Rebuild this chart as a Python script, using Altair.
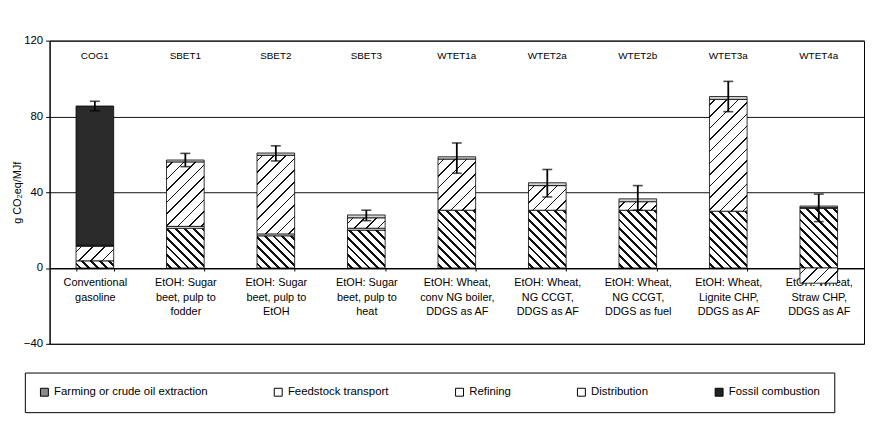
import math
import json
import altair as alt

# ---------------- data ----------------
codes = ["COG1", "SBET1", "SBET2", "SBET3", "WTET1a", "WTET2a", "WTET2b", "WTET3a", "WTET4a"]
descriptions = [
    "Conventional|gasoline",
    "EtOH: Sugar|beet, pulp to|fodder",
    "EtOH: Sugar|beet, pulp to|EtOH",
    "EtOH: Sugar|beet, pulp to|heat",
    "EtOH: Wheat,|conv NG boiler,|DDGS as AF",
    "EtOH: Wheat,|NG CCGT,|DDGS as AF",
    "EtOH: Wheat,|NG CCGT,|DDGS as fuel",
    "EtOH: Wheat,|Lignite CHP,|DDGS as AF",
    "EtOH: Wheat,|Straw CHP,|DDGS as AF",
]
components = ["Farming or crude oil extraction", "Feedstock transport", "Refining",
              "Distribution", "Fossil combustion"]

farming = [3.8, 21.0, 17.0, 20.0, 30.5, 30.5, 30.5, 30.0, 31.5]
transport = [0.0, 1.0, 1.0, 1.0, 0.0, 0.0, 0.0, 0.0, 0.5]
refining = [7.7, 34.0, 41.5, 5.5, 27.0, 13.0, 4.5, 59.0, -8.0]
distribution = [0.5, 1.0, 1.2, 1.5, 1.2, 1.5, 1.5, 1.5, 0.7]
fossil = [73.5, 0.0, 0.0, 0.0, 0.0, 0.0, 0.0, 0.0, 0.0]
err_low = [83.0, 53.5, 56.5, 25.0, 50.0, 37.5, 30.5, 82.5, 24.5]
err_high = [88.0, 60.5, 64.5, 30.5, 66.0, 52.0, 43.5, 98.5, 39.0]

y_ticks = [-40, 0, 40, 80, 120]
legend_colors = ["#8a8a8a", "white", "white", "white", "#222222"]

# ---------------- layout / style ----------------
PLOT_W, PLOT_H = 822, 306
Y_MIN, Y_MAX = -40, 120
PAD_INNER = 0.584
BAR_W = PLOT_W / len(codes) * (1 - PAD_INNER)
PX_PER_UNIT = PLOT_H / (Y_MAX - Y_MIN)
FONT = "Liberation Sans"


def hatch(value, kind, period, lw):
    """Striped linear gradient that looks like a 45 degree hatch on a bar segment."""
    w = BAR_W
    h = max(abs(value) * PX_PER_UNIT, 1.0)
    s = (w + h) * w * h / (w * w + h * h)
    if kind == "back":
        x1, y1, x2, y2 = 0, 1, s / h, 1 - s / w
    else:
        x1, y1, x2, y2 = 0, 0, s / h, s / w
    dist = (w + h) / math.sqrt(2)
    n = max(1.0, dist / period)
    half = lw / period / (2 * n)
    stops = [{"offset": 0, "color": "white"}]
    k = 0
    while True:
        c = (k + 0.5) / n
        a, b = c - half, c + half
        if a >= 1:
            break
        a, b = max(a, 0.0), min(b, 1.0)
        stops += [
            {"offset": round(a, 5), "color": "white"},
            {"offset": round(a, 5), "color": "#111111"},
            {"offset": round(b, 5), "color": "#111111"},
            {"offset": round(b, 5), "color": "white"},
        ]
        k += 1
    stops.append({"offset": 1, "color": "white"})
    return {"gradient": "linear", "x1": x1, "y1": y1, "x2": x2, "y2": y2, "stops": stops}


series = [farming, transport, refining, distribution, fossil]
rows = []
for i, code in enumerate(codes):
    for j, (name, vals) in enumerate(zip(components, series)):
        v = vals[i]
        if v == 0:
            continue
        if j == 0:
            fill = hatch(v, "back", 6.3, 2.0)
        elif j == 2:
            fill = hatch(v, "fwd", 8.3, 1.1)
        elif j == 3:
            fill = "#d4d4d4"
        elif j == 4:
            fill = "#2b2b2b"
        else:
            fill = "white"
        rows.append({"code": code, "comp": name, "order": j, "value": v, "fill": fill})

err_rows = [{"code": c, "lo": lo, "hi": hi} for c, lo, hi in zip(codes, err_low, err_high)]

label_expr = "indexof({c}, datum.value) < 0 ? '' : split({d}[indexof({c}, datum.value)], '|')".format(
    c=json.dumps(codes), d=json.dumps(descriptions))

x_scale = alt.Scale(domain=codes, paddingInner=PAD_INNER, paddingOuter=PAD_INNER / 2)
y_scale = alt.Scale(domain=[Y_MIN, Y_MAX], nice=False)
y_axis = alt.Axis(values=y_ticks, title="g CO₂eq/MJf", grid=True, gridColor="#111111",
                  gridWidth=1, tickSize=4, tickColor="black", domainColor="black",
                  labelFont=FONT, labelFontSize=11.5, labelColor="black", labelPadding=3,
                  titleFont=FONT, titleFontSize=11, titleFontWeight="normal",
                  titleColor="black", titlePadding=1)

bars = alt.Chart(alt.Data(values=rows)).mark_bar(stroke="black", strokeWidth=0.8).encode(
    x=alt.X("code:N", sort=codes, scale=x_scale,
            axis=alt.Axis(title=None, orient="bottom", offset=-(0 - Y_MIN) * PX_PER_UNIT,
                          labelExpr=label_expr, labelAngle=0, tickBand="extent",
                          tickSize=3, tickColor="black", domainColor="black",
                          labelFont=FONT, labelFontSize=11, labelColor="black",
                          labelPadding=6, labelLineHeight=14.5, labelBaseline="top",
                          grid=False)),
    y=alt.Y("value:Q", stack="zero", scale=y_scale, axis=y_axis),
    fill=alt.Fill("fill:N", scale=None),
    order=alt.Order("order:Q"),
)

rules = alt.Chart(alt.Data(values=err_rows)).mark_rule(color="black", strokeWidth=1.8).encode(
    x=alt.X("code:N", sort=codes,
            axis=alt.Axis(title=None, orient="top", offset=-22, domain=False, ticks=False,
                          labelPadding=2, labelAngle=0, labelFont=FONT, labelFontSize=10,
                          labelColor="black", grid=False)),
    y=alt.Y("lo:Q", scale=y_scale, axis=y_axis),
    y2="hi:Q",
)

cap_hi = alt.Chart(alt.Data(values=err_rows)).mark_tick(color="black", thickness=1.6, size=10).encode(
    x=alt.X("code:N", sort=codes, axis=None),
    y=alt.Y("hi:Q", scale=y_scale, axis=y_axis),
)
cap_lo = alt.Chart(alt.Data(values=err_rows)).mark_tick(color="black", thickness=1.6, size=10).encode(
    x=alt.X("code:N", sort=codes, axis=None),
    y=alt.Y("lo:Q", scale=y_scale, axis=y_axis),
)

legend_layer = alt.Chart(alt.Data(values=[{"comp": c} for c in components])).mark_square(opacity=0).encode(
    color=alt.Color("comp:N", sort=components,
                    scale=alt.Scale(domain=components, range=legend_colors),
                    legend=alt.Legend(title=None, orient="none", legendX=-25, legendY=335,
                                      direction="horizontal", symbolType="square", symbolSize=64,
                                      symbolStrokeColor="black", symbolStrokeWidth=1,
                                      symbolOpacity=1, labelFont=FONT, labelFontSize=11.5,
                                      labelColor="black", columnPadding=64, labelOffset=4,
                                      padding=14, strokeColor="black",
                                      fillColor="white")),
)

chart = (
    alt.layer(bars, rules, cap_lo, cap_hi, legend_layer)
    .resolve_axis(x="independent")
    .properties(width=PLOT_W, height=PLOT_H,
                autosize=alt.AutoSizeParams(type="none"),
                padding={"left": 42, "top": 31, "right": 1, "bottom": 80})
    .configure(font=FONT)
    .configure_view(stroke="black", strokeWidth=1)
)

chart.save("out.html", embed_options={"renderer": "svg", "actions": False})
